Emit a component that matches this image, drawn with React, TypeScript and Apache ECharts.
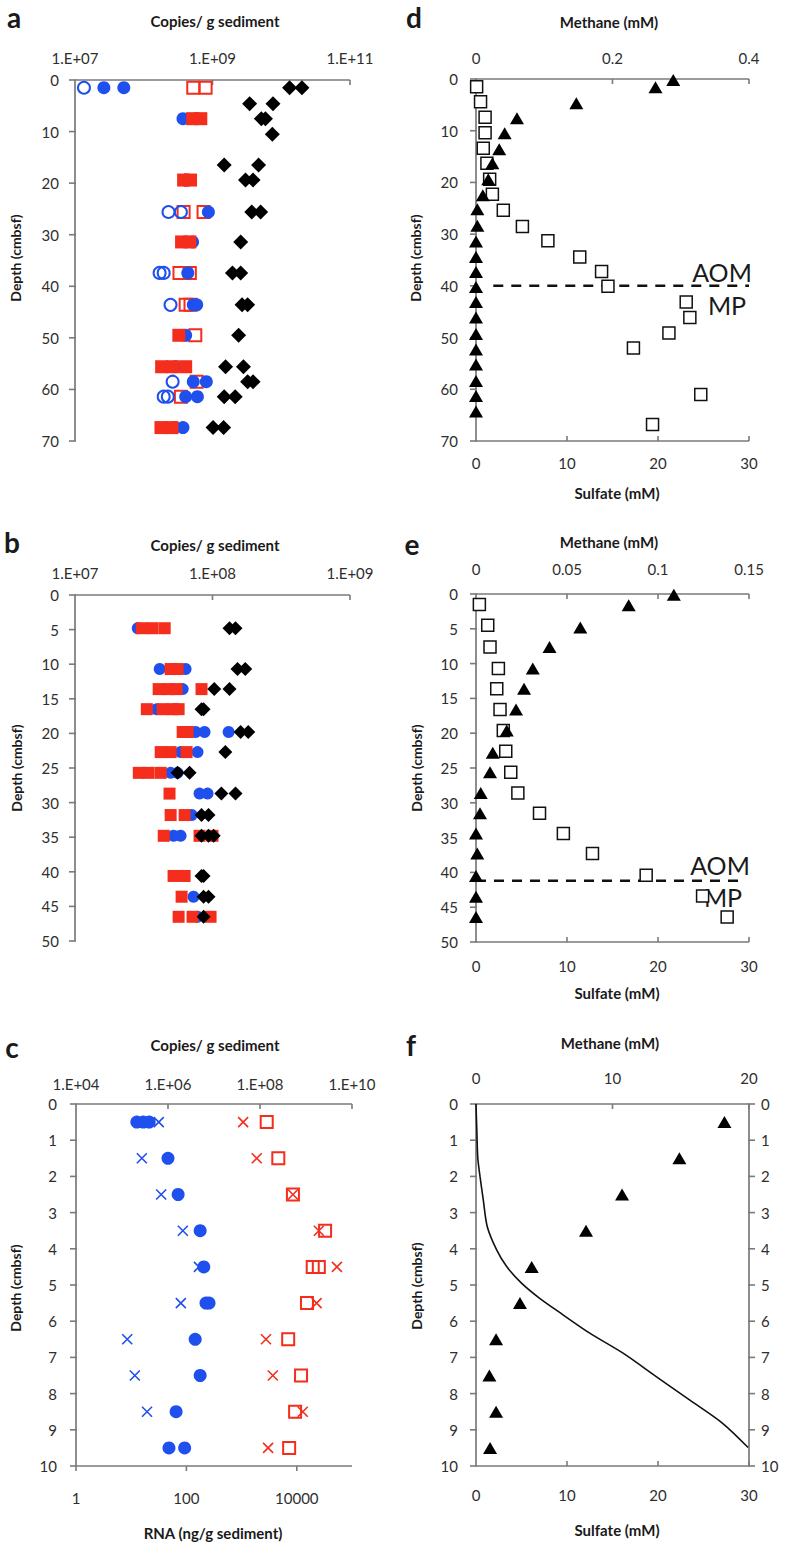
import React, { useEffect, useRef } from 'react';
import * as echarts from 'echarts';

// ---------- Panel a : [copies per g sediment, depth (cmbsf)] ----------
const aBlueOpen = [[1.35e7, 1.5], [2.29e8, 25.6], [3.47e8, 25.6], [1.7e8, 37.4], [1.95e8, 37.4], [2.45e8, 43.6], [2.63e8, 58.5], [1.95e8, 61.4], [2.24e8, 61.4]];
const aBlueFilled = [[2.63e7, 1.5], [5.13e7, 1.5], [3.72e8, 7.5], [4.07e8, 19.4], [8.71e8, 25.6], [5.13e8, 31.4], [4.37e8, 37.4], [5.25e8, 43.6], [5.89e8, 43.6], [4.07e8, 49.5], [2.88e8, 55.6], [5.25e8, 58.5], [8.13e8, 58.5], [4.07e8, 61.4], [6.03e8, 61.4], [2.82e8, 67.4], [3.72e8, 67.4]];
const aRedOpen = [[5.25e8, 1.5], [7.94e8, 1.5], [3.8e8, 25.6], [7.41e8, 25.6], [3.31e8, 37.4], [4.68e8, 37.4], [4.07e8, 43.6], [4.79e8, 43.6], [5.62e8, 49.5], [5.89e8, 58.5], [3.47e8, 61.4]];
const aRedFilled = [[5.13e8, 7.5], [6.76e8, 7.5], [3.8e8, 19.4], [4.79e8, 19.4], [3.55e8, 31.4], [4.68e8, 31.4], [3.24e8, 49.5], [1.82e8, 55.6], [2.63e8, 55.6], [4.07e8, 55.6], [1.78e8, 67.4], [2.57e8, 67.4]];
const aDiamond = [[1.32e10, 1.5], [2.0e10, 1.5], [3.47e9, 4.6], [7.59e9, 4.6], [5.13e9, 7.5], [5.89e9, 7.5], [7.41e9, 10.5], [1.48e9, 16.5], [4.68e9, 16.5], [3.02e9, 19.4], [3.89e9, 19.4], [3.72e9, 25.6], [5.01e9, 25.6], [2.57e9, 31.4], [1.95e9, 37.4], [2.57e9, 37.4], [2.69e9, 43.6], [3.24e9, 43.6], [2.4e9, 49.5], [1.55e9, 55.6], [2.82e9, 55.6], [3.24e9, 58.5], [3.89e9, 58.5], [1.48e9, 61.4], [2.14e9, 61.4], [1.02e9, 67.4], [1.45e9, 67.4]];
const aTicks = [1e7, 1e9, 1e11];

// ---------- Panel b ----------
const bBlue = [[2.86e7, 4.8], [4.13e7, 10.7], [6.37e7, 10.7], [6.07e7, 13.6], [3.93e7, 16.5], [7.53e7, 19.8], [8.75e7, 19.8], [1.31e8, 19.8], [5.86e7, 22.7], [7.78e7, 22.7], [4.96e7, 25.7], [5.57e7, 25.7], [8.05e7, 28.7], [9.2e7, 28.7], [7.05e7, 31.8], [5.21e7, 34.8], [5.86e7, 34.8], [7.28e7, 43.6], [7.78e7, 46.5]];
const bRed = [[3.06e7, 4.8], [3.67e7, 4.8], [4.49e7, 4.8], [4.96e7, 10.7], [5.57e7, 10.7], [4.06e7, 13.6], [4.8e7, 13.6], [5.48e7, 13.6], [8.32e7, 13.6], [3.33e7, 16.5], [4.34e7, 16.5], [5.13e7, 16.5], [5.67e7, 16.5], [6.07e7, 19.8], [6.59e7, 19.8], [4.2e7, 22.7], [4.96e7, 22.7], [6.48e7, 22.7], [2.91e7, 25.7], [3.43e7, 25.7], [4.2e7, 25.7], [4.87e7, 28.7], [4.96e7, 31.8], [6.27e7, 31.8], [4.42e7, 34.8], [8.05e7, 34.8], [1.0e8, 34.8], [5.21e7, 40.6], [6.27e7, 40.6], [5.96e7, 43.6], [5.67e7, 46.5], [7.16e7, 46.5], [9.68e7, 46.5]];
const bDiamond = [[1.33e8, 4.8], [1.47e8, 4.8], [1.52e8, 10.7], [1.73e8, 10.7], [1.03e8, 13.6], [1.33e8, 13.6], [8.32e7, 16.5], [8.61e7, 16.5], [1.6e8, 19.8], [1.82e8, 19.8], [1.24e8, 22.7], [5.57e7, 25.7], [6.81e7, 25.7], [1.16e8, 28.7], [1.47e8, 28.7], [8.32e7, 31.8], [9.35e7, 31.8], [8.32e7, 34.8], [9.35e7, 34.8], [1.02e8, 34.8], [8.32e7, 40.6], [8.61e7, 40.6], [8.61e7, 43.6], [9.35e7, 43.6], [8.61e7, 46.5]];
const bTicks = [1e7, 1e8, 1e9];

// ---------- Panel c ----------
const cBlueCircle = [[2.1e5, 0.5], [2.9e5, 0.5], [3.9e5, 0.5], [1.0e6, 1.5], [1.66e6, 2.5], [5.0e6, 3.5], [6.0e6, 4.5], [6.7e6, 5.5], [7.8e6, 5.5], [3.9e6, 6.5], [5.0e6, 7.5], [1.5e6, 8.5], [1.05e6, 9.5], [2.3e6, 9.5]];
const cBlueCross = [[6.3e5, 0.5], [2.7e5, 1.5], [7.1e5, 2.5], [2.1e6, 3.5], [4.7e6, 4.5], [1.9e6, 5.5], [1.3e5, 6.5], [1.9e5, 7.5], [3.5e5, 8.5]];
const cRedCross = [[4.3e7, 0.5], [8.5e7, 1.5], [5.2e8, 2.5], [1.9e9, 3.5], [4.7e9, 4.5], [1.7e9, 5.5], [1.35e8, 6.5], [1.9e8, 7.5], [8.5e8, 8.5], [1.5e8, 9.5]];
const cRedSquare = [[1.4e8, 0.5], [2.5e8, 1.5], [5.2e8, 2.5], [2.6e9, 3.5], [1.4e9, 4.5], [1.9e9, 4.5], [1.05e9, 5.5], [4.1e8, 6.5], [7.8e8, 7.5], [5.8e8, 8.5], [4.3e8, 9.5]];
const cTopTicks = [1e4, 1e6, 1e8, 1e10];
const cBottomTicks = [1, 100, 10000];

// ---------- Panel d : sulfate / methane (mM) vs depth ----------
const dSulfate = [[0.07, 1.5], [0.5, 4.4], [1.0, 7.4], [1.0, 10.4], [0.8, 13.4], [1.2, 16.3], [1.5, 19.4], [1.8, 22.3], [3.0, 25.4], [5.1, 28.5], [7.9, 31.3], [11.4, 34.4], [13.8, 37.2], [14.5, 40.1], [23.1, 43.1], [23.5, 46.1], [21.2, 49.1], [17.3, 52.0], [24.7, 61.0], [19.4, 66.8]];
const dMethane = [[0.289, 0.2], [0.263, 1.6], [0.147, 4.7], [0.06, 7.6], [0.042, 10.5], [0.034, 13.6], [0.024, 16.3], [0.018, 19.4], [0.01, 22.5], [0.002, 25.2], [0.002, 28.4], [0, 31.4], [0, 34.4], [0, 37.3], [0, 40.2], [0, 43.1], [0, 46.1], [0, 49.3], [0, 52.3], [0, 55.2], [0, 58.4], [0, 61.3], [0, 64.3]];
const dAomLine = [[1.9, 40], [30, 40]];

// ---------- Panel e ----------
const eSulfate = [[0.37, 1.5], [1.29, 4.5], [1.54, 7.6], [2.46, 10.7], [2.28, 13.6], [2.64, 16.6], [3.0, 19.6], [3.27, 22.6], [3.82, 25.6], [4.6, 28.6], [6.98, 31.5], [9.6, 34.4], [12.8, 37.3], [18.7, 40.4], [24.9, 43.4], [27.6, 46.4]];
const eMethane = [[0.1087, 0.1], [0.0839, 1.6], [0.0573, 4.8], [0.0404, 7.6], [0.0312, 10.7], [0.0264, 13.6], [0.022, 16.6], [0.0169, 19.6], [0.0092, 22.8], [0.0077, 25.6], [0.0026, 28.6], [0.0022, 31.5], [0, 34.4], [0.0007, 37.3], [0, 40.5], [0, 43.5], [0, 46.4]];
const eAomLine = [[0, 41.2], [29, 41.2]];

// ---------- Panel f ----------
const fMethane = [[18.2, 0.5], [14.9, 1.5], [10.7, 2.5], [8.06, 3.5], [4.08, 4.5], [3.22, 5.5], [1.47, 6.5], [0.98, 7.5], [1.47, 8.5], [1.03, 9.5]];
const fSulfate = [[0, 0], [0.1, 0.8], [0.2, 1.5], [0.44, 2.0], [0.8, 2.65], [1.24, 3.39], [2.27, 4.03], [3.37, 4.49], [5.0, 4.95], [7.0, 5.37], [9.6, 5.83], [12.5, 6.33], [16.2, 6.89], [19.8, 7.53], [23.5, 8.18], [27.1, 8.82], [29.9, 9.49]];

// ---------- tick values of the axes ----------
const depth70Ticks = [0, 10, 20, 30, 40, 50, 60, 70];
const depth50Ticks = [0, 5, 10, 15, 20, 25, 30, 35, 40, 45, 50];
const depth10Ticks = [0, 1, 2, 3, 4, 5, 6, 7, 8, 9, 10];
const dMethaneTicks = [0.2, 0.4];
const eMethaneTicks = [0.05, 0.1, 0.15];
const fMethaneTicks = [10, 20];
const sulfateTicks = [10, 20, 30];

const FONT = 'Lato, "Liberation Sans", sans-serif';
const AXIS = '#7a7a7a';
const LABEL = '#2e2e2e';
const BLUE = '#1f50ee';
const RED = '#f42d1c';
const CROSS = 'path://M0,0L10,10M10,0L0,10';

function expLabel(v: number) {
  const e = Math.round(Math.log10(v));
  return '1.E+' + (e < 10 ? '0' + e : String(e));
}
function intLabel(v: number) {
  return String(Math.round(v));
}

const hidden = { show: false };
const mkLabel = (margin: number) => ({ color: LABEL, fontSize: 15, fontFamily: FONT, margin });

function logX(grid: number, position: string, min: number, max: number, ticks: number[], margin: number, fmt: (v: number) => string) {
  return {
    type: 'log', logBase: 10, gridIndex: grid, position, min, max,
    axisLine: { show: false, onZero: false }, splitLine: hidden, minorTick: hidden, axisTick: hidden,
    axisLabel: { ...mkLabel(margin), customValues: ticks.slice(), formatter: fmt },
  };
}
function valX(grid: number, position: string, min: number, max: number, interval: number, margin: number) {
  return {
    type: 'value', gridIndex: grid, position, min, max, interval,
    axisLine: { show: false, onZero: false }, splitLine: hidden, axisTick: hidden,
    axisLabel: mkLabel(margin),
  };
}
function valY(grid: number, position: string, max: number, interval: number, margin: number) {
  return {
    type: 'value', gridIndex: grid, position, min: 0, max, interval, inverse: true,
    axisLine: { show: false, onZero: false }, splitLine: hidden, axisTick: hidden,
    axisLabel: mkLabel(margin),
  };
}

// axis line drawn through the library's own scales
function axisSeg(xi: number, yi: number, data: number[][]) {
  return { type: 'line', xAxisIndex: xi, yAxisIndex: yi, data, symbol: 'none', clip: false, silent: true, z: 1, lineStyle: { color: AXIS, width: 1.7 } };
}
// tick marks along a side: along x (fixed y) or along y (fixed x)
function ticksAlongX(xi: number, yi: number, values: number[], yAt: number, dir: number) {
  return { type: 'scatter', xAxisIndex: xi, yAxisIndex: yi, data: values.map(v => [v, yAt]), symbol: 'rect', symbolSize: [1.6, 5], symbolOffset: [0, 2.5 * dir], clip: false, silent: true, z: 1, itemStyle: { color: AXIS, opacity: 1 } };
}
function ticksAlongY(xi: number, yi: number, values: number[], xAt: number, dir: number) {
  return { type: 'scatter', xAxisIndex: xi, yAxisIndex: yi, data: values.map(v => [xAt, v]), symbol: 'rect', symbolSize: [7, 1.6], symbolOffset: [2.5 * dir, 0], clip: false, silent: true, z: 1, itemStyle: { color: AXIS, opacity: 1 } };
}

function sc(xi: number, yi: number, data: number[][], symbol: string, size: any, itemStyle: any) {
  return { type: 'scatter', xAxisIndex: xi, yAxisIndex: yi, data, symbol, symbolSize: size, itemStyle: { opacity: 1, ...itemStyle }, clip: false, z: 3 };
}
const blueOpen = { color: 'rgba(255,255,255,0)', borderColor: BLUE, borderWidth: 2 };
const blueFill = { color: BLUE };
const redOpen = { color: 'rgba(255,255,255,0)', borderColor: RED, borderWidth: 2 };
const redFill = { color: RED };
const black = { color: '#000' };
const blackOpenSq = { color: '#fff', borderColor: '#111', borderWidth: 1.5 };

function txt(x: number, y: number, text: string, size: number, weight: string, extra: any = {}) {
  return {
    type: 'text', x, y, ...extra,
    style: { text, fill: '#1a1a1a', fontSize: size, fontWeight: weight, fontFamily: FONT, align: 'center', verticalAlign: 'middle' },
  };
}
function depthTitle(x: number, y: number) {
  return txt(x, y, 'Depth (cmbsf)', 14, 'bold', { rotation: Math.PI / 2 });
}

export default function App() {
  const ref = useRef<HTMLDivElement>(null);
  useEffect(() => {
    const chart = echarts.init(ref.current!, null, { renderer: 'svg' });
    chart.setOption({
      animation: false,
      grid: [
        { left: 75, top: 80, width: 275, height: 361 },
        { left: 476, top: 79, width: 273, height: 362 },
        { left: 75, top: 595, width: 275, height: 346 },
        { left: 476, top: 594, width: 273, height: 348 },
        { left: 76, top: 1104, width: 276, height: 362 },
        { left: 476, top: 1104, width: 273, height: 362 },
      ],
      xAxis: [
        logX(0, 'top', 1e7, 1e11, aTicks, 15, expLabel),
        valX(1, 'top', 0, 0.4, 0.2, 14),
        valX(1, 'bottom', 0, 30, 10, 14),
        logX(2, 'top', 1e7, 1e9, bTicks, 15, expLabel),
        valX(3, 'top', 0, 0.15, 0.05, 18),
        valX(3, 'bottom', 0, 30, 10, 16),
        logX(4, 'top', 1e4, 1e10, cTopTicks, 13, expLabel),
        logX(4, 'bottom', 1, 1e5, cBottomTicks, 24, intLabel),
        valX(5, 'top', 0, 20, 10, 19),
        valX(5, 'bottom', 0, 30, 10, 21),
      ],
      yAxis: [
        valY(0, 'left', 70, 10, 16),
        valY(1, 'left', 70, 10, 18),
        valY(2, 'left', 50, 5, 16),
        valY(3, 'left', 50, 5, 18),
        valY(4, 'left', 10, 1, 19),
        valY(5, 'left', 10, 1, 18),
        valY(5, 'right', 10, 1, 12),
      ],
      series: [
        // ---- axis frames ----
        // a
        axisSeg(0, 0, [[1e7, 0], [1e11, 0]]),
        axisSeg(0, 0, [[1e7, 0], [1e7, 70]]),
        ticksAlongY(0, 0, depth70Ticks, 1e7, -1),
        ticksAlongX(0, 0, aTicks.slice(1), 0, 1),
        // d
        axisSeg(1, 1, [[0, 0], [0.4, 0]]),
        axisSeg(2, 1, [[0, 70], [30, 70]]),
        axisSeg(2, 1, [[0, 0], [0, 70]]),
        ticksAlongY(2, 1, depth70Ticks, 0, -1),
        ticksAlongX(1, 1, dMethaneTicks, 0, 1),
        ticksAlongX(2, 1, sulfateTicks, 70, -1),
        // b
        axisSeg(3, 2, [[1e7, 0], [1e9, 0]]),
        axisSeg(3, 2, [[1e7, 0], [1e7, 50]]),
        ticksAlongY(3, 2, depth50Ticks, 1e7, -1),
        ticksAlongX(3, 2, bTicks.slice(1), 0, 1),
        // e
        axisSeg(4, 3, [[0, 0], [0.15, 0]]),
        axisSeg(5, 3, [[0, 50], [30, 50]]),
        axisSeg(5, 3, [[0, 0], [0, 50]]),
        ticksAlongY(5, 3, depth50Ticks, 0, -1),
        ticksAlongX(4, 3, eMethaneTicks, 0, 1),
        ticksAlongX(5, 3, sulfateTicks, 50, -1),
        // c
        axisSeg(6, 4, [[1e4, 0], [1e10, 0]]),
        axisSeg(7, 4, [[1, 10], [1e5, 10]]),
        axisSeg(7, 4, [[1, 0], [1, 10]]),
        ticksAlongY(7, 4, depth10Ticks, 1, -1),
        ticksAlongX(6, 4, cTopTicks.slice(1), 0, 1),
        ticksAlongX(7, 4, cBottomTicks, 10, 1),
        // f
        axisSeg(8, 5, [[0, 0], [20, 0]]),
        axisSeg(9, 5, [[0, 10], [30, 10]]),
        axisSeg(9, 5, [[0, 0], [0, 10]]),
        axisSeg(9, 6, [[30, 0], [30, 10]]),
        ticksAlongY(9, 5, depth10Ticks, 0, -1),
        ticksAlongY(9, 6, depth10Ticks, 30, 1),
        ticksAlongX(8, 5, fMethaneTicks, 0, 1),
        ticksAlongX(9, 5, sulfateTicks, 10, -1),

        // ---- data ----
        // a
        sc(0, 0, aRedOpen, 'rect', 12, redOpen),
        sc(0, 0, aBlueFilled, 'circle', 13, blueFill),
        sc(0, 0, aRedFilled, 'rect', 13, redFill),
        sc(0, 0, aBlueOpen, 'circle', 12, blueOpen),
        sc(0, 0, aDiamond, 'diamond', 15, black),
        // d
        sc(2, 1, dSulfate, 'rect', 12, blackOpenSq),
        sc(1, 1, dMethane, 'triangle', [14, 12], black),
        { type: 'line', xAxisIndex: 2, yAxisIndex: 1, data: dAomLine, symbol: 'none', z: 3, lineStyle: { color: '#111', width: 2.5, type: [10, 8] } },
        // b
        sc(3, 2, bBlue, 'circle', 12, blueFill),
        sc(3, 2, bRed, 'rect', 12, redFill),
        sc(3, 2, bDiamond, 'diamond', 14, black),
        // e
        sc(5, 3, eSulfate, 'rect', 12, blackOpenSq),
        sc(4, 3, eMethane, 'triangle', [14, 12], black),
        { type: 'line', xAxisIndex: 5, yAxisIndex: 3, data: eAomLine, symbol: 'none', z: 3, lineStyle: { color: '#111', width: 2.5, type: [10, 8] } },
        // c
        sc(6, 4, cBlueCircle, 'circle', 13, blueFill),
        sc(6, 4, cBlueCross, CROSS, 10, { color: 'rgba(0,0,0,0)', borderColor: BLUE, borderWidth: 1.6 }),
        sc(6, 4, cRedCross, CROSS, 10, { color: 'rgba(0,0,0,0)', borderColor: RED, borderWidth: 1.6 }),
        sc(6, 4, cRedSquare, 'rect', 12, redOpen),
        // f
        sc(8, 5, fMethane, 'triangle', [14, 12], black),
        { type: 'line', xAxisIndex: 9, yAxisIndex: 5, data: fSulfate, symbol: 'none', smooth: 0.3, z: 3, lineStyle: { color: '#111', width: 1.6 } },
      ],
      graphic: [
        txt(14, 17, 'a', 28, 'bold'),
        txt(215, 21, 'Copies/ g sediment', 15, 'bold'),
        depthTitle(15, 258),
        txt(414, 17, 'd', 28, 'bold'),
        txt(609, 22, 'Methane (mM)', 15, 'bold'),
        txt(617, 493, 'Sulfate (mM)', 15, 'bold'),
        depthTitle(415, 258),
        txt(722, 272, 'AOM', 25, 'normal'),
        txt(727, 305, 'MP', 25, 'normal'),

        txt(12, 542, 'b', 28, 'bold'),
        txt(215, 545, 'Copies/ g sediment', 15, 'bold'),
        depthTitle(16, 768),
        txt(412, 544, 'e', 28, 'bold'),
        txt(609, 542, 'Methane (mM)', 15, 'bold'),
        txt(617, 993, 'Sulfate (mM)', 15, 'bold'),
        depthTitle(416, 768),
        txt(720, 865, 'AOM', 25, 'normal'),
        txt(723, 897, 'MP', 25, 'normal'),

        txt(12, 1047, 'c', 28, 'bold'),
        txt(215, 1045, 'Copies/ g sediment', 15, 'bold'),
        txt(213, 1533, 'RNA (ng/g sediment)', 15, 'bold'),
        depthTitle(15, 1288),
        txt(411, 1045, 'f', 28, 'bold'),
        txt(610, 1043, 'Methane (mM)', 15, 'bold'),
        txt(617, 1530, 'Sulfate (mM)', 15, 'bold'),
        depthTitle(416, 1286),
      ],
    });
    return () => chart.dispose();
  }, []);
  return <div ref={ref} style={{ position: 'absolute', left: 0, top: 0, width: 785, height: 1545, background: '#fff' }} />;
}
